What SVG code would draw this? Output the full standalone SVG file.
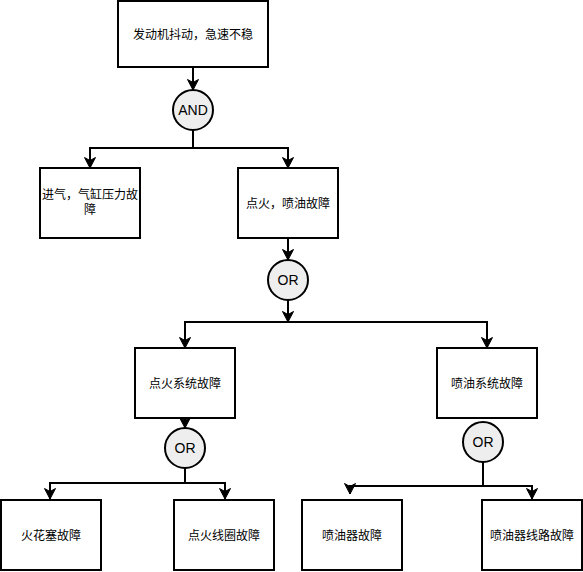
<svg xmlns="http://www.w3.org/2000/svg" width="583" height="572" viewBox="0 0 583 572">
<style>
  .box { fill: #ffffff; stroke: #000000; stroke-width: 2; }
  .gate { fill: #eeeeee; stroke: #000000; stroke-width: 2; }
  .edge { fill: none; stroke: #000000; stroke-width: 2; }
  .t { font-family: "Liberation Sans", "Noto Sans CJK SC", sans-serif; font-size: 12px; fill: #000000; text-anchor: middle; }
  .g { font-family: "Liberation Sans", "Noto Sans CJK SC", sans-serif; font-size: 14px; fill: #000000; text-anchor: middle; }
</style>
<defs>
  <marker id="arrow" markerUnits="userSpaceOnUse" markerWidth="12" markerHeight="12" viewBox="0 0 12 12" refX="11" refY="6" orient="auto">
    <path d="M0.5,0.5 L11,6 L0.5,11.5 L3.5,6 Z" fill="#000000" stroke="#000000" stroke-width="1"/>
  </marker>
</defs>
<rect x="0" y="0" width="583" height="572" fill="#ffffff"/>
<g id="connectors">
  <path class="edge" d="M193,67 L193,90" marker-end="url(#arrow)"/>
  <path class="edge" d="M193,130 L193,148 L90,148 L90,168" marker-end="url(#arrow)"/>
  <path class="edge" d="M193,148 L288,148 L288,168" marker-end="url(#arrow)"/>
  <path class="edge" d="M288,238 L288,260" marker-end="url(#arrow)"/>
  <path class="edge" d="M288,300 L288,322" marker-end="url(#arrow)"/>
  <path class="edge" d="M288,322 L185,322 L185,348" marker-end="url(#arrow)"/>
  <path class="edge" d="M288,322 L487,322 L487,348" marker-end="url(#arrow)"/>
  <path class="edge" d="M185,418 L185,428" marker-end="url(#arrow)"/>
  <path class="edge" d="M185,468 L185,483 L50,483 L50,499" marker-end="url(#arrow)"/>
  <path class="edge" d="M185,483 L225,483 L225,499" marker-end="url(#arrow)"/>
  <path class="edge" d="M483,462 L483,486 L350,486 L350,494" marker-end="url(#arrow)"/>
  <path class="edge" d="M483,486 L532,486 L532,499" marker-end="url(#arrow)"/>
</g>
<g id="top">
  <rect class="box" x="118" y="1" width="150" height="66"/>
  <text class="t" x="193" y="39">发动机抖动，急速不稳</text>
</g>
<g id="and-gate">
  <circle class="gate" cx="193" cy="110" r="20"/>
  <text class="g" x="193" y="115">AND</text>
</g>
<g id="intake">
  <rect class="box" x="40" y="168" width="100" height="70"/>
  <text class="t" x="90" y="199">进气，气缸压力故</text>
  <text class="t" x="90" y="214">障</text>
</g>
<g id="ignition-injection">
  <rect class="box" x="238" y="168" width="100" height="70"/>
  <text class="t" x="288" y="207.5">点火，喷油故障</text>
</g>
<g id="or-gate-1">
  <circle class="gate" cx="288" cy="280" r="20"/>
  <text class="g" x="288" y="285">OR</text>
</g>
<g id="ignition-system">
  <rect class="box" x="135" y="348" width="100" height="70"/>
  <text class="t" x="185" y="387.5">点火系统故障</text>
</g>
<g id="injection-system">
  <rect class="box" x="437" y="348" width="100" height="70"/>
  <text class="t" x="487" y="387.5">喷油系统故障</text>
</g>
<g id="or-gate-2">
  <circle class="gate" cx="185" cy="448" r="20"/>
  <text class="g" x="185" y="453">OR</text>
</g>
<g id="or-gate-3">
  <circle class="gate" cx="483" cy="442" r="20"/>
  <text class="g" x="483" y="447">OR</text>
</g>
<g id="spark-plug">
  <rect class="box" x="1" y="500" width="100" height="70"/>
  <text class="t" x="51" y="539.5">火花塞故障</text>
</g>
<g id="ignition-coil">
  <rect class="box" x="174" y="500" width="100" height="70"/>
  <text class="t" x="224" y="539.5">点火线圈故障</text>
</g>
<g id="injector">
  <rect class="box" x="302" y="500" width="100" height="70"/>
  <text class="t" x="352" y="539.5">喷油器故障</text>
</g>
<g id="injector-wiring">
  <rect class="box" x="482" y="500" width="100" height="70"/>
  <text class="t" x="532" y="539.5">喷油器线路故障</text>
</g>
</svg>
